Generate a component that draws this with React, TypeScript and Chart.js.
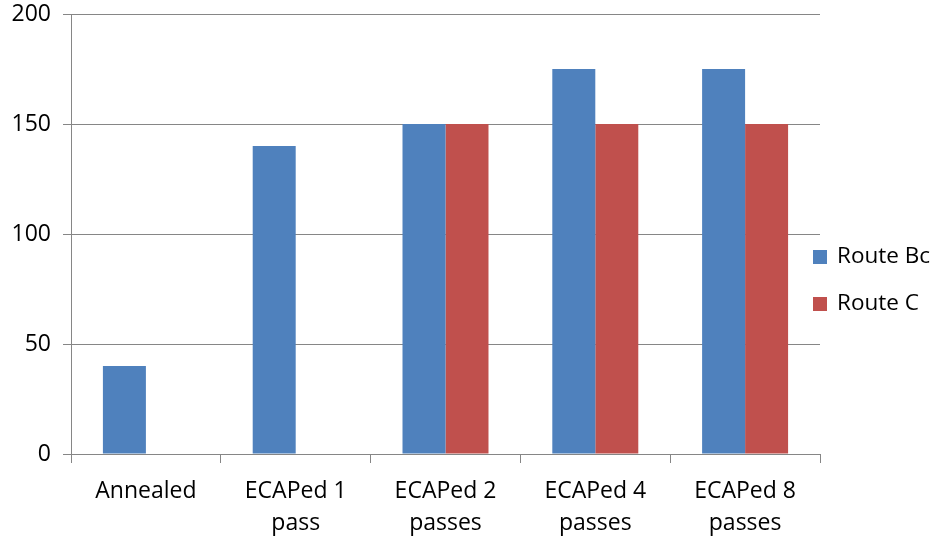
import React, { useEffect, useRef } from "react";
import { Chart, registerables } from "chart.js";

Chart.register(...registerables);

const categories: string[][] = [
  ["Annealed"],
  ["ECAPed 1", "pass"],
  ["ECAPed 2", "passes"],
  ["ECAPed 4", "passes"],
  ["ECAPed 8", "passes"],
];
const routeBc: (number | null)[] = [40, 140, 150, 175, 175];
const routeC: (number | null)[] = [null, null, 150, 150, 150];
const seriesNames = ["Route Bc", "Route C"];
const seriesColors = ["#4F81BD", "#C0504D"];
const yTicks = { min: 0, max: 200, step: 50 };

const FONT = "'Open Sans', 'Liberation Sans', sans-serif";
const AXIS_GRAY = "#868686";

// Legend drawn to the right of the plot: colored square + series name
const sideLegend = {
  id: "sideLegend",
  afterDraw(chart: Chart) {
    const ctx = chart.ctx;
    const x = chart.chartArea.right - 7;
    const y0 = 250;
    const gap = 47;
    ctx.save();
    ctx.font = `22.5px ${FONT}`;
    ctx.textBaseline = "middle";
    ctx.textAlign = "left";
    chart.data.datasets.forEach((ds, i) => {
      const y = y0 + i * gap;
      ctx.fillStyle = ds.backgroundColor as string;
      ctx.fillRect(x, y, 14, 14);
      ctx.fillStyle = "#000";
      ctx.fillText(ds.label as string, x + 24, y + 7);
    });
    ctx.restore();
  },
};

export default function App() {
  const ref = useRef<HTMLCanvasElement | null>(null);

  useEffect(() => {
    document.body.style.margin = "0";
    if (!ref.current) return;
    const chart = new Chart(ref.current, {
      type: "bar",
      data: {
        labels: categories,
        datasets: [
          { label: seriesNames[0], data: routeBc, backgroundColor: seriesColors[0] },
          { label: seriesNames[1], data: routeC, backgroundColor: seriesColors[1] },
        ],
      },
      options: {
        animation: false,
        responsive: false,
        devicePixelRatio: 1,
        layout: { padding: { top: 14, right: 117, left: 0, bottom: 0 } },
        datasets: {
          bar: { categoryPercentage: 0.574, barPercentage: 1.0 },
        },
        plugins: {
          legend: { display: false },
          tooltip: { enabled: false },
        },
        scales: {
          x: {
            offset: true,
            grid: {
              display: true,
              offset: true,
              drawOnChartArea: false,
              drawTicks: true,
              tickLength: 9,
              color: AXIS_GRAY,
              lineWidth: 1,
            },
            border: { display: true, color: AXIS_GRAY, width: 1 },
            ticks: {
              color: "#000",
              font: { family: FONT, size: 23, lineHeight: 1.4 },
              padding: 12,
              maxRotation: 0,
              autoSkip: false,
            },
            afterFit(scale: any) {
              scale.height = 83;
              scale.paddingLeft = 0;
              scale.paddingRight = 0;
            },
          },
          y: {
            min: yTicks.min,
            max: yTicks.max,
            grid: {
              color: AXIS_GRAY,
              lineWidth: 1,
              tickLength: 8,
              drawTicks: true,
            },
            border: { display: true, color: AXIS_GRAY, width: 1 },
            ticks: {
              stepSize: yTicks.step,
              color: "#000",
              font: { family: FONT, size: 23 },
              padding: 12,
            },
            afterFit(scale: any) {
              scale.width = 71;
              scale.paddingTop = 0;
              scale.paddingBottom = 0;
            },
          },
        },
      },
      plugins: [sideLegend],
    });
    return () => chart.destroy();
  }, []);

  return (
    <div style={{ position: "fixed", left: 0, top: 0, width: 937, height: 537, background: "#fff" }}>
      <canvas ref={ref} width={937} height={537} />
    </div>
  );
}
